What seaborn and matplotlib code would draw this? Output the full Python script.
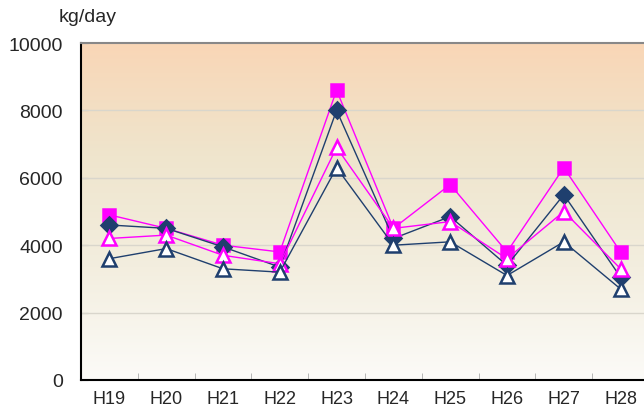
import numpy as np
import pandas as pd
import matplotlib
matplotlib.use('Agg')
import matplotlib.pyplot as plt
import seaborn as sns
from matplotlib.colors import LinearSegmentedColormap

years = ['H19', 'H20', 'H21', 'H22', 'H23', 'H24', 'H25', 'H26', 'H27', 'H28']
pink_square = [4900, 4500, 4000, 3800, 8600, 4500, 5800, 3800, 6300, 3800]
navy_diamond = [4600, 4500, 3950, 3350, 8000, 4200, 4850, 3400, 5500, 3050]
pink_triangle = [4200, 4300, 3700, 3450, 6900, 4500, 4700, 3600, 5000, 3300]
navy_triangle = [3600, 3900, 3300, 3200, 6300, 4000, 4100, 3100, 4100, 2700]

navy = '#1f3f6e'
pink = '#ff00ff'

sns.set_style('white')
plt.rcParams['font.family'] = ['Liberation Sans', 'DejaVu Sans']

fig = plt.figure(figsize=(6.44, 4.10), dpi=100)
ax = fig.add_axes([81 / 644, 29 / 410, 568 / 644, 337 / 410])

# background gradient
cmap = LinearSegmentedColormap.from_list('bg', ['#fcfbf8', '#f3eedf', '#efe5cd', '#f9d6b6'])
grad = np.linspace(0, 1, 256).reshape(-1, 1)
ax.imshow(grad, cmap=cmap, aspect='auto', origin='lower',
          extent=[-0.5, 9.5, 0, 10000], zorder=0)

x = np.arange(len(years))
series = [
    (pink_square, 's', pink, pink, 9),
    (navy_diamond, 'D', navy, navy, 8.5),
    (pink_triangle, '^', pink, 'white', 10.5),
    (navy_triangle, '^', navy, 'white', 10.5),
]
for i, (vals, mk, col, face, ms) in enumerate(series):
    sns.lineplot(x=x, y=vals, ax=ax, color=col, lw=1, marker=mk,
                 markersize=ms, markerfacecolor=face, markeredgecolor=col,
                 markeredgewidth=1.8, zorder=3 + i)

ax.set_xlim(-0.5, 9.5)
ax.set_ylim(0, 10000)
ax.set_yticks(range(0, 10001, 2000))
ax.set_xticks(x)
ax.set_xticklabels(years, fontsize=13)
ax.set_xticks(np.arange(0.5, 9.5, 1), minor=True)
ax.tick_params(axis='x', which='major', length=0, pad=7)
ax.tick_params(axis='x', which='minor', direction='in', length=5, color='#aaaaaa', bottom=True)
ax.tick_params(axis='y', direction='in', length=5, color='#888888', labelsize=14, pad=13, left=True)

for yv in range(2000, 10000, 2000):
    ax.axhline(yv, color='#d9d6cc', lw=1, zorder=1)

for s in ['left', 'bottom']:
    ax.spines[s].set_color('black')
    ax.spines[s].set_linewidth(1.5)
ax.spines['top'].set_color('#888888')
ax.spines['top'].set_linewidth(1.5)
ax.spines['right'].set_visible(False)

fig.text(88 / 644, 1 - 17 / 410, 'kg/day', fontsize=14, ha='center', va='center')

fig.savefig('out.png', dpi=100)
